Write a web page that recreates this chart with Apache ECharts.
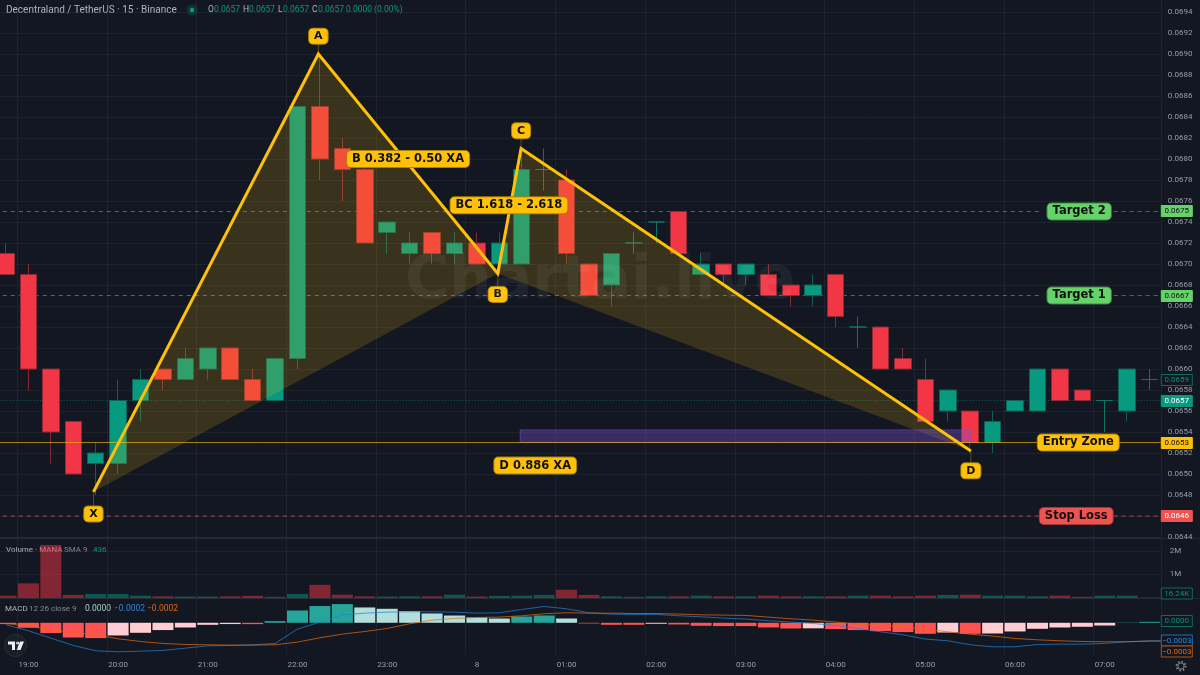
<!DOCTYPE html>
<html>
<head>
<meta charset="utf-8">
<style>html,body{margin:0;padding:0;background:#131722}#c{width:1200px;height:675px}</style>
<script src="https://cdn.jsdelivr.net/npm/echarts@6/dist/echarts.min.js"></script>
</head>
<body>
<div id="c"></div>
<script>
// MANA/USDT 15-minute session, 18:45 through 07:30
const times = ['18:45','19:00','19:15','19:30','19:45','20:00','20:15','20:30','20:45','21:00','21:15','21:30','21:45','22:00','22:15','22:30','22:45','23:00','23:15','23:30','23:45','00:00','00:15','00:30','00:45','01:00','01:15','01:30','01:45','02:00','02:15','02:30','02:45','03:00','03:15','03:30','03:45','04:00','04:15','04:30','04:45','05:00','05:15','05:30','05:45','06:00','06:15','06:30','06:45','07:00','07:15','07:30'];
const opens  = [.0671,.0669,.0660,.0655,.0651,.0651,.0657,.0660,.0659,.0660,.0662,.0659,.0657,.0661,.0685,.0681,.0679,.0673,.0671,.0673,.0671,.0672,.0670,.0670,.0679,.0678,.0670,.0668,.0672,.0674,.0675,.0669,.0670,.0669,.0669,.0668,.0667,.0669,.0664,.0664,.0661,.0659,.0656,.0656,.0653,.0656,.0656,.0660,.0658,.0657,.0656,.0659];
const closes = [.0669,.0660,.0654,.0650,.0652,.0657,.0659,.0659,.0661,.0662,.0659,.0657,.0661,.0685,.0680,.0679,.0672,.0674,.0672,.0671,.0672,.0670,.0672,.0679,.0679,.0671,.0667,.0671,.0672,.0674,.0671,.0670,.0669,.0670,.0667,.0667,.0668,.0665,.0664,.0660,.0660,.0655,.0658,.0653,.0655,.0657,.0660,.0657,.0657,.0657,.0660,.0659];
const lows   = [.0669,.0658,.0651,.0650,.0648,.0650,.0655,.0658,.0659,.0659,.0659,.0657,.0657,.0660,.0678,.0676,.0672,.0671,.0670,.0670,.0670,.0670,.0669,.0670,.0677,.0670,.0667,.0666,.0671,.0672,.0671,.0669,.0668,.0668,.0667,.0666,.0666,.0664,.0662,.0660,.0660,.0655,.0655,.0652,.0652,.0656,.0656,.0657,.0657,.0654,.0655,.0658];
const highs  = [.0672,.0670,.0660,.0655,.0653,.0659,.0660,.0660,.0662,.0662,.0662,.0660,.0661,.0685,.0690,.0682,.0680,.0674,.0673,.0673,.0673,.0673,.0673,.0681,.0681,.0679,.0670,.0671,.0673,.0674,.0675,.0671,.0670,.0670,.0670,.0668,.0669,.0669,.0665,.0664,.0662,.0661,.0658,.0656,.0656,.0657,.0660,.0660,.0658,.0657,.0660,.0660];
const volumes = [.1,.62,2.25,.13,.17,.17,.1,.07,.06,.06,.07,.09,.05,.17,.56,.14,.07,.06,.07,.07,.14,.06,.09,.1,.13,.35,.13,.07,.05,.07,.07,.1,.07,.07,.1,.07,.07,.07,.1,.1,.07,.1,.13,.14,.1,.1,.07,.1,.05,.1,.1,.01624];
const macdHist = [-1.9e-5,-7.1e-5,-14.7e-5,-21e-5,-21.9e-5,-18.1e-5,-14.3e-5,-10.4e-5,-6.7e-5,-2.9e-5,-1.8e-5,-1.9e-5,2.4e-5,17.6e-5,23.9e-5,26.7e-5,21.9e-5,20e-5,16.7e-5,13.3e-5,10.4e-5,7.6e-5,6.1e-5,9e-5,10.4e-5,6.1e-5,-1e-5,-2.9e-5,-2.9e-5,-1.4e-5,-2.4e-5,-4.3e-5,-4.7e-5,-4.7e-5,-6.7e-5,-8.1e-5,-7.9e-5,-9e-5,-10.4e-5,-11.9e-5,-13.3e-5,-15.7e-5,-13.9e-5,-15.7e-5,-15.3e-5,-12.4e-5,-8.6e-5,-6.7e-5,-5.7e-5,-3.9e-5,.4e-5,1.4e-5];
const macdLine = [-2.9e-5,-11.4e-5,-21.9e-5,-32.4e-5,-40e-5,-41.4e-5,-40.5e-5,-39.5e-5,-36.2e-5,-32.9e-5,-32.4e-5,-31.4e-5,-29.5e-5,-9e-5,1e-5,11e-5,13.8e-5,15.2e-5,15.7e-5,15.7e-5,15.2e-5,13.8e-5,14.3e-5,19e-5,23.3e-5,20e-5,14.3e-5,12.4e-5,11.9e-5,11.9e-5,10e-5,8.6e-5,6.7e-5,5.2e-5,2.9e-5,1e-5,-1e-5,-3.8e-5,-8.1e-5,-12.9e-5,-17.1e-5,-23.3e-5,-25.7e-5,-31.4e-5,-34.3e-5,-34.3e-5,-31e-5,-30.5e-5,-30.5e-5,-29.5e-5,-27.1e-5,-25.7e-5];
const signalLine = [-1e-5,-4.8e-5,-10e-5,-13.8e-5,-17.1e-5,-22.9e-5,-26.7e-5,-29.5e-5,-31e-5,-31.4e-5,-31.9e-5,-31.9e-5,-31.4e-5,-27.6e-5,-21.4e-5,-16.2e-5,-12.4e-5,-8.1e-5,-1.4e-5,3.8e-5,6.2e-5,7.6e-5,8.1e-5,10e-5,12.9e-5,14.3e-5,13.8e-5,13.8e-5,13.3e-5,13.3e-5,12.4e-5,11.4e-5,11e-5,10.5e-5,8.1e-5,5.7e-5,3.8e-5,1e-5,-1.9e-5,-3.8e-5,-5.7e-5,-9e-5,-12.9e-5,-16.2e-5,-19e-5,-22.4e-5,-24.3e-5,-25.7e-5,-26.7e-5,-27.1e-5,-27.1e-5,-26.2e-5];

// XABCD harmonic pattern: bar position and price of each pivot
const pivotNames  = ['X','A','B','C','D'];
const pivotBars   = [3.9,13.93,21.93,22.97,43.03];
const pivotPrices = [.06483,.0690,.06691,.0681,.06522];
const pivotTagPrices = [.06462,.06917,.06671,.06827,.06503];

const ratioNotes  = ['B 0.382 - 0.50 XA','BC 1.618 - 2.618','D 0.886 XA'];
const ratioBars   = [17.93,22.43,23.6];
const ratioPrices = [.0680,.06756,.06508];

const zoneBars = [22.93,43.03];
const zonePrices = [.06542,.0653];

const levelNames  = ['Target 2','Target 1','Entry Zone','Stop Loss'];
const levelPrices = [.0675,.0667,.0653,.0646];
const levelTagBars = [47.86,47.86,47.82,47.73];
const lastPrice = .0657, livePrice = .0659;

const BG = '#131722', GOLD = '#FFC107', GREEN = '#089981', RED = '#F23645';
const GRID_LINE = 'rgba(54,58,69,0.32)', AXIS_TEXT = '#9a9da6', PANE_EDGE = '#23262f';
const SCALE_FONT = 'Roboto';
const LAST = times.length - 0.5;
const hourly = i => (i - 1) % 4 === 0;

// Bar-aligned position of overlays, on a hidden numeric axis
const hiddenX = g => ({type:'value',gridIndex:g,min:-0.5,max:LAST,show:false});

function catX(g, withLabels){
  return {
    type:'category',gridIndex:g,data:times,boundaryGap:true,
    axisLine:{show:false},
    axisTick:{show:false,alignWithLabel:true,interval:(i)=>hourly(i)},
    splitLine:{show:true,interval:(i)=>hourly(i),lineStyle:{color:GRID_LINE,width:1}},
    axisLabel:{
      show:withLabels,interval:(i)=>hourly(i),margin:6,color:AXIS_TEXT,fontFamily:SCALE_FONT,fontSize:8,
      formatter:v => v === '00:00' ? '8' : v
    }
  };
}

const candleData = times.map((t,i)=>[opens[i],closes[i],lows[i],highs[i]]);

function volumeItem(v,i){
  const up = closes[i] >= opens[i];
  return {value:v,itemStyle:{color:up?'rgba(8,153,129,0.5)':'rgba(242,54,69,0.5)'}};
}
function histItem(v,i){
  const prev = i ? macdHist[i-1] : 0;
  let c;
  if (v >= 0) c = v > prev ? '#26a69a' : '#b2dfdb';
  else c = v <= prev ? '#ff5252' : '#ffcdd2';
  return {value:v,itemStyle:{color:c}};
}

function levelLine(i,color,type,z){
  const p = levelPrices[i];
  return {
    type:'line',xAxisIndex:3,yAxisIndex:0,z,silent:true,showSymbol:false,connectNulls:false,
    data:[[-0.5,p],[46.2,p],[null,null],[49.4,p],[LAST,p]],
    lineStyle:{color,width:1,type}
  };
}

function pills(items,bg,edge,font){
  return {
    type:'scatter',xAxisIndex:3,yAxisIndex:0,z:8,silent:true,symbolSize:1,itemStyle:{color:'rgba(0,0,0,0)',opacity:1},
    data:items.map(d=>({name:d[0],value:[d[1],d[2]]})),
    label:{
      show:true,position:'inside',formatter:'{b}',color:'#101010',fontFamily:'DejaVu Sans',fontWeight:'bold',
      fontSize:font,backgroundColor:bg,borderColor:edge,borderWidth:1,borderRadius:4,padding:[2,5,2,5]
    }
  };
}

// Price-scale tags in the right gutter
const tagFont = '8px Roboto';
function tags(yAxisIndex,xAxisIndex,list){
  return {
    type:'custom',xAxisIndex,yAxisIndex,z:9,silent:true,clip:false,
    data:list.map((t,i)=>[0,t.v,i]),
    renderItem(p,api){
      const t = list[api.value(2)];
      const y = Math.round(api.coord([0,api.value(1)])[1]) + (t.dy||0);
      const x = p.coordSys.x + p.coordSys.width;
      return {type:'group',children:[
        {type:'rect',shape:{x:x+0.5,y:y-5.5,width:31,height:11},
         style:{fill:t.bg,stroke:t.edge,lineWidth:1}},
        {type:'text',style:{x:x+16,y:y,text:t.text,fill:t.fg,font:tagFont,align:'center',verticalAlign:'middle'}}
      ]};
    }
  };
}

const pivotRows = pivotNames.map((n,i)=>[pivotBars[i],pivotPrices[i],pivotTagPrices[i]]);

const label = (x,y,text,fill,size) => ({type:'text',x,y,silent:true,style:{text,fill,font:(size||8.5)+'px Roboto',verticalAlign:'middle'}});

// MACD curves run on to the right edge of the pane
const toEdge = arr => arr.map((v,i)=>[i,v]).concat([[LAST,arr[arr.length-1]]]);

const option = {
  backgroundColor:BG,
  animation:false,
  grid:[
    {left:-5.2,top:-9,width:1166,height:546,outerBoundsMode:'none',containLabel:false},
    {left:-5.2,top:537,width:1166,height:61,outerBoundsMode:'none',containLabel:false},
    {left:-5.2,top:598,width:1166,height:57,outerBoundsMode:'none',containLabel:false}
  ],
  xAxis:[catX(0,false),catX(1,false),catX(2,true),hiddenX(0),hiddenX(2)],
  yAxis:[
    {type:'value',gridIndex:0,position:'right',min:.0644,max:.0696,interval:.0002,
     axisLine:{show:false},axisTick:{show:false},
     splitLine:{lineStyle:{color:GRID_LINE,width:1}},
     axisLabel:{margin:7,color:AXIS_TEXT,fontFamily:SCALE_FONT,fontSize:8,formatter:v=>v.toFixed(4)}},
    {type:'value',gridIndex:1,position:'right',min:0,max:2.585,interval:1,
     axisLine:{show:false},axisTick:{show:false},
     splitLine:{lineStyle:{color:GRID_LINE,width:1}},
     axisLabel:{margin:9,color:AXIS_TEXT,fontFamily:SCALE_FONT,fontSize:8,
       formatter:v=>(v===1||v===2)?v+'M':''}},
    {type:'value',gridIndex:2,position:'right',min:-4.6e-4,max:3.54e-4,
     axisLine:{show:false},axisTick:{show:false},splitLine:{show:false},axisLabel:{show:false}}
  ],
  series:[
    levelLine(0,'rgba(102,211,106,0.5)',[4,4],1),
    levelLine(1,'rgba(102,211,106,0.5)',[4,4],1),
    levelLine(3,'rgba(239,83,80,0.75)',[4,4],1),
    {type:'line',xAxisIndex:3,yAxisIndex:0,z:1,silent:true,showSymbol:false,
     data:[[-0.5,lastPrice],[LAST,lastPrice]],lineStyle:{color:'rgba(8,153,129,0.55)',width:1,type:[1,2]}},
    {type:'candlestick',xAxisIndex:0,yAxisIndex:0,z:2,silent:true,barWidth:17,data:candleData,
     itemStyle:{color:GREEN,color0:RED,borderColor:'rgba(12,100,86,0.95)',borderColor0:'rgba(140,42,54,0.95)',
       borderColorDoji:'rgba(12,120,102,0.95)',borderWidth:1}},
    // Shaded XAB and BCD triangles
    {type:'custom',xAxisIndex:3,yAxisIndex:0,z:3,silent:true,clip:false,data:[[0,0]],
     renderItem(p,api){
       const pt = i => api.coord([pivotBars[i],pivotPrices[i]]);
       const fill = 'rgba(255,193,7,0.165)';
       return {type:'group',children:[
         {type:'polygon',shape:{points:[pt(0),pt(1),pt(2)]},style:{fill}},
         {type:'polygon',shape:{points:[pt(2),pt(3),pt(4)]},style:{fill}}
       ]};
     }},
    // Potential reversal zone
    {type:'custom',xAxisIndex:3,yAxisIndex:0,z:4,silent:true,data:[[zoneBars[0],zonePrices[0],zoneBars[1],zonePrices[1]]],
     renderItem(p,api){
       const a = api.coord([api.value(0),api.value(1)]), b = api.coord([api.value(2),api.value(3)]);
       return {type:'rect',shape:{x:a[0],y:a[1],width:b[0]-a[0],height:b[1]-a[1]},
         style:{fill:'rgba(123,82,214,0.36)',stroke:'rgba(123,82,214,0.55)',lineWidth:1}};
     }},
    levelLine(2,'rgba(255,193,7,0.62)','solid',5),
    // Thin stems joining each pivot to its letter
    {type:'custom',xAxisIndex:3,yAxisIndex:0,z:5,silent:true,data:pivotRows,
     renderItem(p,api){
       const a = api.coord([api.value(0),api.value(1)]), b = api.coord([api.value(0),api.value(2)]);
       return {type:'line',shape:{x1:a[0],y1:a[1],x2:b[0],y2:b[1]},style:{stroke:'rgba(255,193,7,0.3)',lineWidth:1}};
     }},
    {type:'line',xAxisIndex:3,yAxisIndex:0,z:6,silent:true,showSymbol:false,
     data:pivotBars.map((b,i)=>[b,pivotPrices[i]]),
     lineStyle:{color:GOLD,width:3,join:'miter',cap:'butt'}},
    pills(pivotNames.map((n,i)=>[n,pivotBars[i],pivotTagPrices[i]]),GOLD,'#a98208',11),
    pills(ratioNotes.map((n,i)=>[n,ratioBars[i],ratioPrices[i]]),GOLD,'#a98208',11.5),
    pills([[levelNames[0],levelTagBars[0],levelPrices[0]],[levelNames[1],levelTagBars[1],levelPrices[1]]],'#66d36a','#3f8743',11.5),
    pills([[levelNames[2],levelTagBars[2],levelPrices[2]]],GOLD,'#a98208',11.5),
    pills([[levelNames[3],levelTagBars[3],levelPrices[3]]],'#ef5350','#9c3a38',11.5),

    {type:'bar',xAxisIndex:1,yAxisIndex:1,silent:true,barWidth:21,data:volumes.map(volumeItem)},

    {type:'bar',xAxisIndex:2,yAxisIndex:2,silent:true,barWidth:21,z:2,data:macdHist.map(histItem)},
    {type:'line',xAxisIndex:4,yAxisIndex:2,silent:true,showSymbol:false,z:3,data:toEdge(macdLine),
     lineStyle:{color:'rgba(33,130,215,0.72)',width:1}},
    {type:'line',xAxisIndex:4,yAxisIndex:2,silent:true,showSymbol:false,z:3,data:toEdge(signalLine),
     lineStyle:{color:'rgba(230,105,10,0.72)',width:1}},

    tags(0,3,[
      {v:levelPrices[0],text:'0.0675',bg:'#66d36a',edge:'#66d36a',fg:'#101010'},
      {v:levelPrices[1],text:'0.0667',bg:'#66d36a',edge:'#66d36a',fg:'#101010'},
      {v:livePrice,text:'0.0659',bg:BG,edge:'#0b6d5e',fg:'#0f8f79'},
      {v:lastPrice,text:'0.0657',bg:GREEN,edge:GREEN,fg:'#ffffff'},
      {v:levelPrices[2],text:'0.0653',bg:GOLD,edge:GOLD,fg:'#101010'},
      {v:levelPrices[3],text:'0.0646',bg:'#ef5350',edge:'#ef5350',fg:'#ffffff'}
    ]),
    {type:'custom',xAxisIndex:1,yAxisIndex:1,z:9,silent:true,clip:false,data:[[0,0.018]],
     renderItem(p,api){
       const x = p.coordSys.x + p.coordSys.width, y = 593.5;
       return {type:'group',children:[
         {type:'rect',shape:{x:x+0.5,y:y-5.5,width:31,height:11},style:{fill:BG,stroke:'#0b6d5e',lineWidth:1}},
         {type:'text',style:{x:x+16,y,text:'16.24K',fill:'#0f8f79',font:tagFont,align:'center',verticalAlign:'middle'}}
       ]};
     }},
    {type:'custom',xAxisIndex:2,yAxisIndex:2,z:9,silent:true,clip:false,data:[[0,0]],
     renderItem(p,api){
       const x = p.coordSys.x + p.coordSys.width;
       const box = (y,edge,fg,text)=>[
         {type:'rect',shape:{x:x+0.5,y:y-5.5,width:31,height:11},style:{fill:BG,stroke:edge,lineWidth:1}},
         {type:'text',style:{x:x+16,y,text,fill:fg,font:tagFont,align:'center',verticalAlign:'middle'}}
       ];
       return {type:'group',children:[
         ...box(621,'#0b6d5e','#0f8f79','0.0000'),
         ...box(640.5,'#1f6fb5','#2f86d8','\u22120.0003'),
         ...box(651.5,'#b5530a','#e6690b','\u22120.0003')
       ]};
     }}
  ],
  graphic:{elements:[
    // Watermark
    {type:'text',x:405,y:282,z:50,silent:true,style:{text:'Chartai.live',fill:'rgba(255,255,255,0.055)',font:'bold 60px "DejaVu Sans"',verticalAlign:'middle'}},
    // Pane edges; the lowest price label is cut off by the pane below it
    {type:'rect',silent:true,shape:{x:1162,y:538,width:38,height:7},style:{fill:BG}},
    {type:'rect',silent:true,shape:{x:0,y:538,width:1200,height:1},style:{fill:PANE_EDGE}},
    {type:'rect',silent:true,shape:{x:0,y:598,width:1200,height:1},style:{fill:PANE_EDGE}},
    // Symbol header
    label(6,10,'Decentraland / TetherUS \u00b7 15 \u00b7 Binance','#b2b5be',10),
    {type:'circle',silent:true,shape:{cx:192,cy:10,r:5.5},style:{fill:'rgba(8,153,129,0.22)'}},
    {type:'circle',silent:true,shape:{cx:192,cy:10,r:2.2},style:{fill:GREEN}},
    label(208,10,'O','#b2b5be'),label(214,10,'0.0657','#089981'),
    label(243,10,'H','#b2b5be'),label(249,10,'0.0657','#089981'),
    label(278,10,'L','#b2b5be'),label(283,10,'0.0657','#089981'),
    label(312,10,'C','#b2b5be'),label(318,10,'0.0657','#089981'),
    label(346,10,'0.0000','#089981'),label(374,10,'(0.00%)','#089981'),
    // Volume legend
    {type:'rect',silent:true,shape:{x:40,y:545,width:22,height:11},style:{fill:'rgba(19,23,34,0.35)'}},
    label(6,550,'Volume \u00b7 MANA','#b2b5be',8),label(64,550,'SMA 9','#858892',8),label(93,550,'436','#089981',8),
    // MACD legend
    label(5,609,'MACD','#b2b5be',8),label(29,609,'12 26 close 9','#858892',8),
    label(85,609,'0.0000','#a9cfc9',8.5),label(114,609,'\u22120.0002','#2f86d8',8.5),label(147,609,'\u22120.0002','#e6690b',8.5),
    // Platform badge
    {type:'circle',silent:true,shape:{cx:15.5,cy:645.5,r:11},style:{fill:'#1a1e29',stroke:'#2a2e39',lineWidth:1}},
    {type:'polygon',silent:true,shape:{points:[[8,641.5],[15,641.5],[15,650],[12,650],[12,644.5],[8,644.5]]},style:{fill:'#eef0f3'}},
    {type:'circle',silent:true,shape:{cx:17.6,cy:643,r:1.5},style:{fill:'#eef0f3'}},
    {type:'polygon',silent:true,shape:{points:[[20,641.5],[24,641.5],[20.5,650],[16.5,650]]},style:{fill:'#eef0f3'}},
    // Settings gear
    {type:'circle',silent:true,shape:{cx:1181,cy:666,r:3.2},style:{fill:'none',stroke:'#8a8d96',lineWidth:1}},
    {type:'circle',silent:true,shape:{cx:1181,cy:666,r:4.6},style:{fill:'none',stroke:'#8a8d96',lineWidth:1.6,lineDash:[1.6,2]}}
  ]}
};

const chart = echarts.init(document.getElementById('c'),null,{renderer:'canvas'});
chart.setOption(option);
</script>
</body>
</html>
